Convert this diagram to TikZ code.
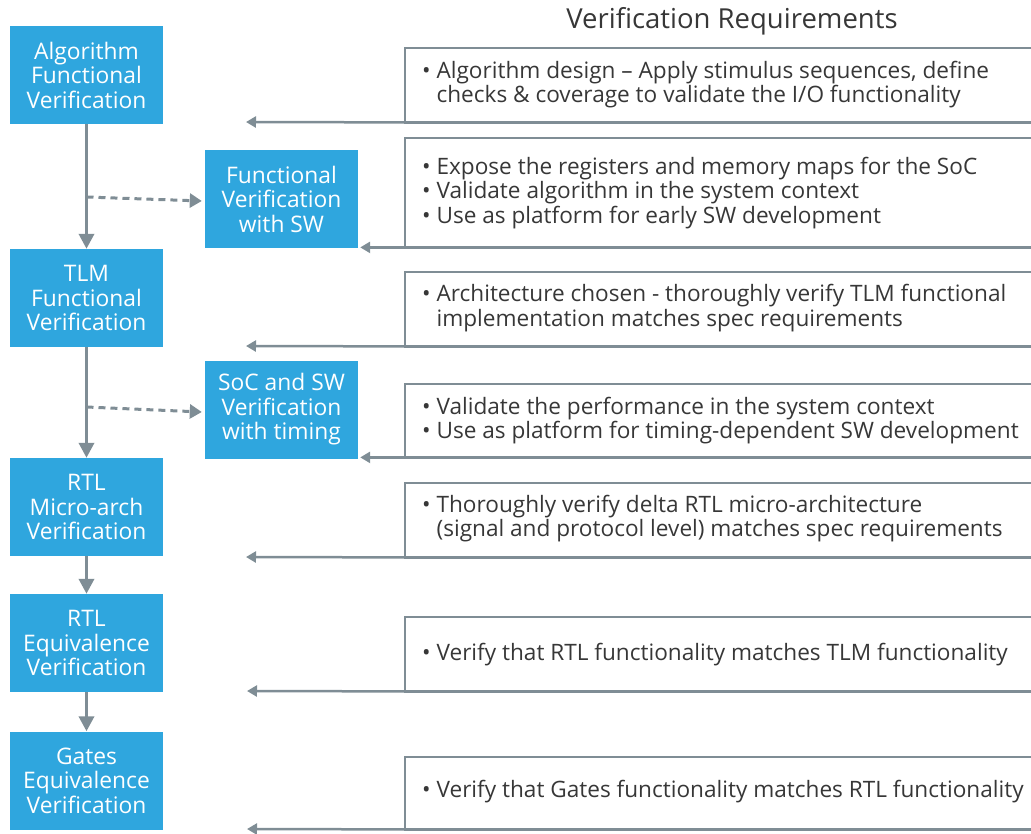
\documentclass[tikz,border=0pt]{standalone}
\usepackage{fontspec}
\setmainfont{Open Sans}
\usetikzlibrary{arrows.meta}
\definecolor{boxblue}{RGB}{47,166,222}
\definecolor{linegray}{RGB}{127,141,149}
\definecolor{txtgray}{RGB}{55,55,55}
\begin{document}
\begin{tikzpicture}[x=1pt,y=-1pt,
  vbox/.style={fill=boxblue, text=white, minimum width=153pt, minimum height=98pt,
    inner sep=0pt, align=center, font=\fontsize{22.8}{24.5}\selectfont},
  flow/.style={draw=linegray, line width=3.5pt, -{Triangle[length=15pt,width=15pt]}},
  dashflow/.style={draw=linegray, line width=3pt, dash pattern=on 7pt off 5pt,
    -{Triangle[length=12pt,width=14pt]}},
  back/.style={draw=linegray, line width=2.5pt, -{Triangle[length=10pt,width=11pt]}},
  bracket/.style={draw=linegray, line width=2.5pt},
  reqbox/.style={minimum width=640pt, inner sep=0pt, anchor=north west},
  reqtext/.style={anchor=west, text=txtgray, align=left, inner sep=0pt,
    font=\fontsize{22.6}{24.2}\selectfont}
]
\useasboundingbox (0,0) rectangle (1031,833);
\newcommand{\bl}{\textbullet\ }
\newcommand{\ind}{\hphantom{\textbullet\ }}

% title
\node[text=txtgray, font=\fontsize{27.5}{30}\selectfont] (title) at (732,21) {Verification Requirements};

% left column
\node[vbox] (alg) at (86.5,75) {Algorithm\\Functional\\Verification};
\node[vbox] (tlm) at (86.5,298) {TLM\\Functional\\Verification};
\node[vbox] (rtlm) at (86.5,507) {RTL\\Micro-arch\\Verification};
\node[vbox] (rtle) at (86.5,643) {RTL\\Equivalence\\Verification};
\node[vbox] (gate) at (86.5,780.5) {Gates\\Equivalence\\Verification};
% middle column
\node[vbox] (fvsw) at (281.5,199) {Functional\\Verification\\with SW};
\node[vbox] (soc) at (281.5,409.5) {SoC and SW\\Verification\\with timing};

% main flow
\draw[flow] (alg.south) -- (tlm.north);
\draw[flow] (tlm.south) -- (rtlm.north);
\draw[flow] (rtlm.south) -- (rtle.north);
\draw[flow] (rtle.south) -- (gate.north);
\draw[dashflow] (alg.south |- 0,197) -- ([xshift=-3pt,yshift=-2pt]fvsw.west);
\draw[dashflow] (tlm.south |- 0,407) -- ([xshift=-3pt,yshift=-2.5pt]soc.west);

% requirement boxes
\node[reqbox, minimum height=74pt] (r1) at (405,48) {};
\node[reqbox, minimum height=109pt] (r2) at (405,138) {};
\node[reqbox, minimum height=74pt] (r3) at (405,272) {};
\node[reqbox, minimum height=73pt] (r4) at (405,384) {};
\node[reqbox, minimum height=74pt] (r5) at (405,483) {};
\node[reqbox, minimum height=74pt] (r6) at (405,617) {};
\node[reqbox, minimum height=72pt] (r7) at (405,757) {};

\foreach \r in {r1,r2,r3,r4,r5,r6,r7}{
  \draw[bracket] (\r.north east) -| (\r.south west) -- (\r.south east);
}
\coordinate (e1) at (246,122);
\coordinate (e3) at (246,346);
\coordinate (e5) at (246,557);
\coordinate (e6) at (247,691);
\coordinate (e7) at (247,829);
\draw[back] (r1.south west) -- (e1);
\draw[back] (r2.south west) -- ([xshift=2pt]fvsw.east |- r2.south west);
\draw[back] (r3.south west) -- (e3);
\draw[back] (r4.south west) -- ([xshift=2pt]soc.east |- r4.south west);
\draw[back] (r5.south west) -- (e5);
\draw[back] (r6.south west) -- (e6);
\draw[back] (r7.south west) -- (e7);

% requirement texts
\node[reqtext] (t1) at (422,84.5) {\bl Algorithm design -- Apply stimulus sequences, define\\\ind checks \& coverage to validate the I/O functionality};
\node[reqtext] (t2) at (422,193) {\bl Expose the registers and memory maps for the SoC\\\bl Validate algorithm in the system context\\\bl Use as platform for early SW development};
\node[reqtext] (t3) at (422,308) {\bl Architecture chosen - thoroughly verify TLM functional\\\ind implementation matches spec requirements};
\node[reqtext] (t4) at (422,420.5) {\bl Validate the performance in the system context\\\bl Use as platform for timing-dependent SW development};
\node[reqtext] (t5) at (422,518.5) {\bl Thoroughly verify delta RTL micro-architecture\\\ind (signal and protocol level) matches spec requirements};
\node[reqtext] (t6) at (422,654.5) {\bl Verify that RTL functionality matches TLM functionality};
\node[reqtext] (t7) at (422,791.5) {\bl Verify that Gates functionality matches RTL functionality};
\end{tikzpicture}
\end{document}
